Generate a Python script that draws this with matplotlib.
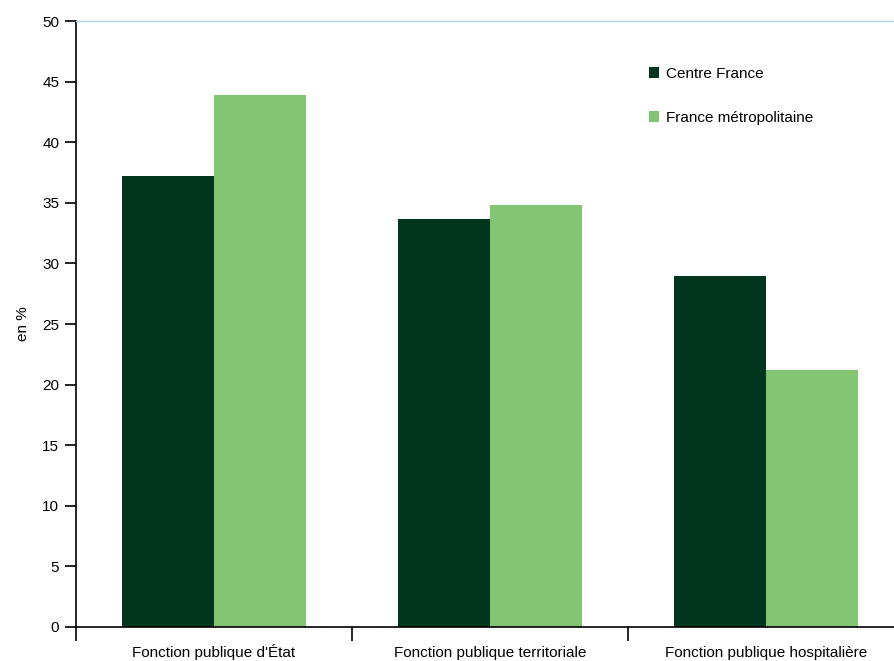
import numpy as np
import matplotlib.pyplot as plt
from matplotlib.ticker import FixedLocator

plt.rcParams['font.family'] = ['Liberation Sans', 'DejaVu Sans']

categories = ["Fonction publique d'État", "Fonction publique territoriale", "Fonction publique hospitalière"]
centre = [37.2, 33.7, 29.0]
france = [43.9, 34.8, 21.2]
series_names = ["Centre France", "France métropolitaine"]

fig = plt.figure(figsize=(8.95, 6.61), dpi=100)
ax = fig.add_axes([76 / 895, 34 / 661, 828 / 895, 606 / 661])

x = np.arange(len(categories))
w = 1 / 3
ax.bar(x - w / 2, centre, width=w, color='#00361e', label=series_names[0])
ax.bar(x + w / 2, france, width=w, color='#82c674', label=series_names[1])

ax.set_xlim(-0.5, 2.5)
ax.set_ylim(0, 50)
ax.set_yticks(np.arange(0, 51, 5))
ax.set_ylabel("en %", fontsize=11, labelpad=9)

# category labels at centres, ticks at boundaries
ax.set_xticks(x)
ax.set_xticklabels(categories, fontsize=11, va='baseline')
ax.tick_params(axis='x', which='major', length=0, pad=21.5)
ax.xaxis.set_minor_locator(FixedLocator([-0.5, 0.5, 1.5, 2.5]))
ax.tick_params(axis='x', which='minor', length=10, width=1.2, direction='out')
ax.tick_params(axis='y', length=8, width=1.2, labelsize=11, pad=4)

ax.spines['right'].set_visible(False)
ax.spines['top'].set_color('#add8ef')
ax.spines['top'].set_linewidth(1.0)
ax.spines['left'].set_linewidth(1.2)
ax.spines['bottom'].set_linewidth(1.2)

ax.legend(loc='upper left', bbox_to_anchor=(635 / 895, 1 - 53 / 661), bbox_transform=fig.transFigure,
          frameon=False, fontsize=11, handlelength=0.7, handleheight=0.7, handletextpad=0.45,
          labelspacing=1.95)

fig.savefig('out.png', dpi=100)
